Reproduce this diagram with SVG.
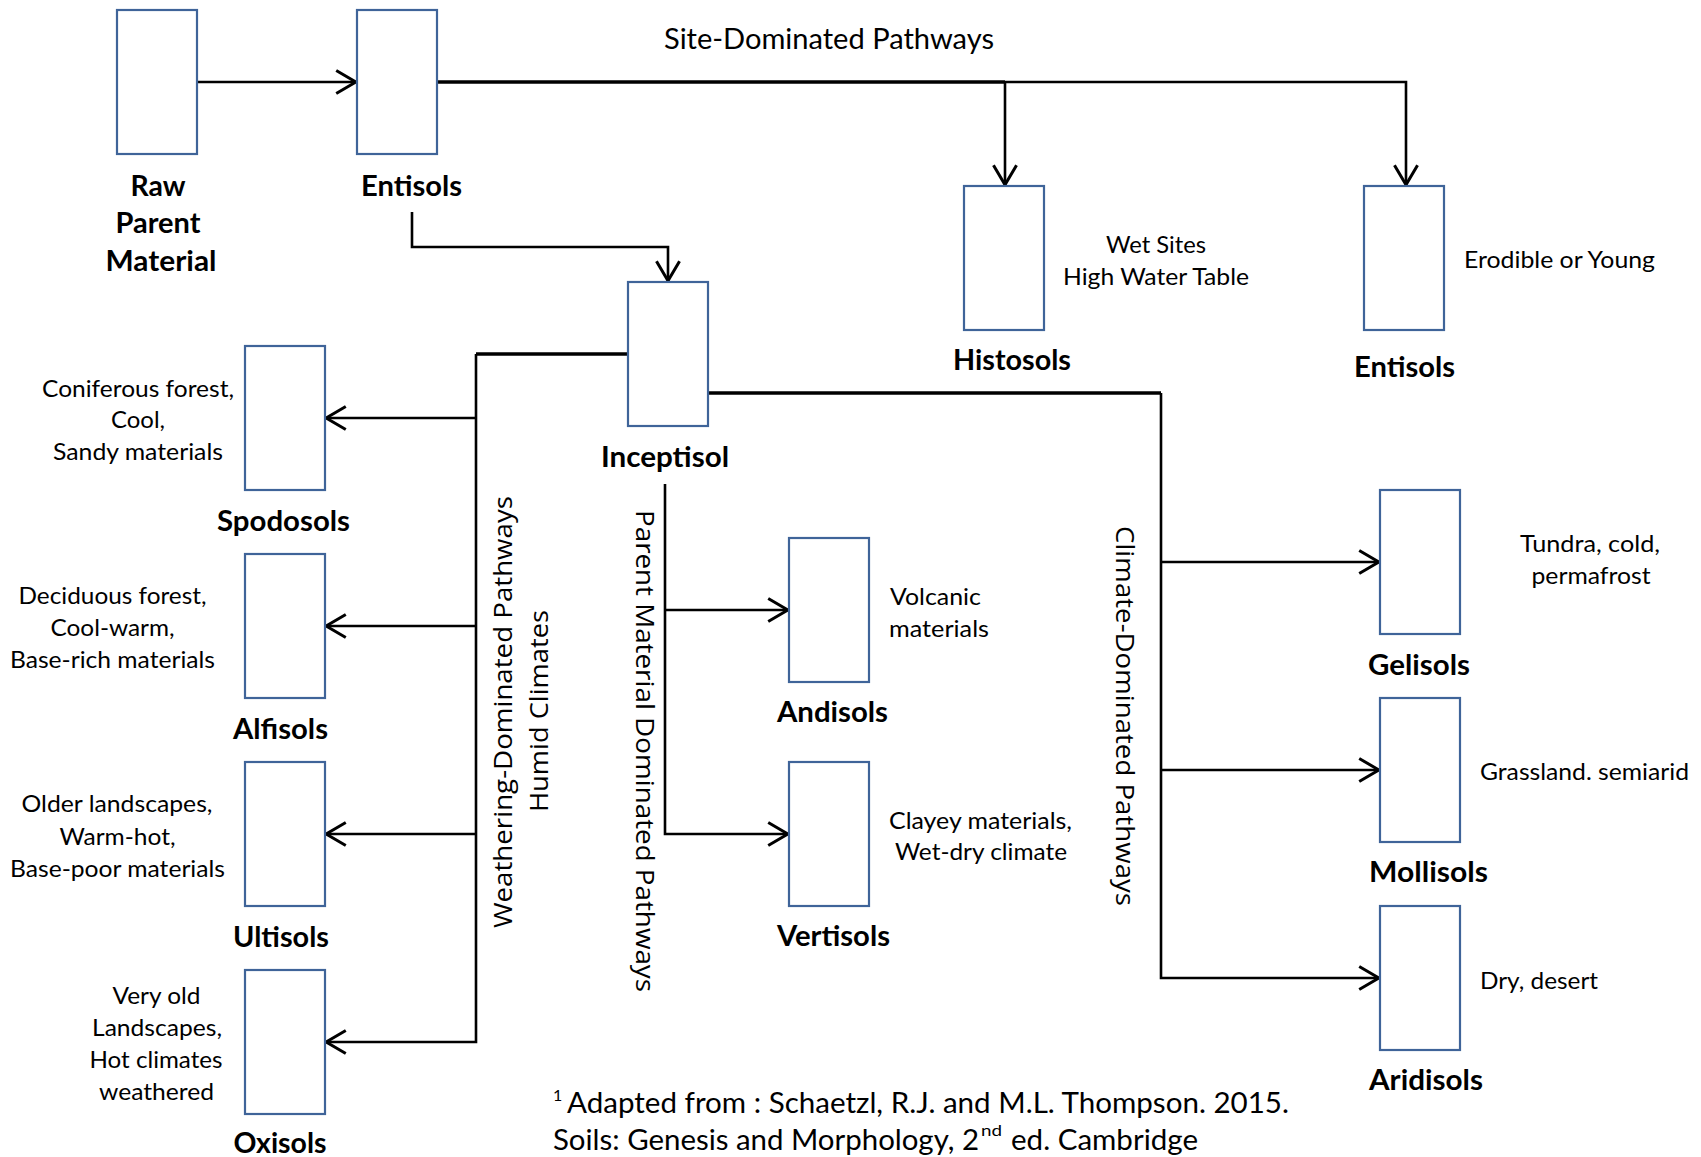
<svg xmlns="http://www.w3.org/2000/svg" width="1701" height="1157" viewBox="0 0 1701 1157">
<style>
.box{fill:#fff;stroke:#3F6499;stroke-width:2.2}
.lbl{font-family:Lato,"Liberation Sans",sans-serif;font-weight:bold;font-size:29px;fill:#000;text-anchor:middle}
.desc{font-family:Lato,"Liberation Sans",sans-serif;font-size:23px;fill:#000}
.mid{text-anchor:middle}
.big{font-family:Lato,"Liberation Sans",sans-serif;font-size:28px;fill:#000}
.vert{font-family:"Open Sans","DejaVu Sans",sans-serif;font-size:26px;fill:#000;text-anchor:middle}
.c{fill:none;stroke:#000;stroke-width:2.6}
.t{fill:none;stroke:#000;stroke-width:3.4}
</style>
<defs>
<marker id="arr" markerUnits="userSpaceOnUse" markerWidth="30" markerHeight="30" viewBox="-22 -13 26 26" refX="0" refY="0" orient="auto" overflow="visible">
<path d="M-18,-10 L-1,0 L-18,10" fill="none" stroke="#000" stroke-width="2.6"/>
</marker>
</defs>
<rect width="1701" height="1157" fill="#fff"/>

<g id="connectors">
<path class="c" d="M197,82 H357" marker-end="url(#arr)"/>
<path class="t" d="M437,82 H1005"/>
<path class="c" d="M1005,82 H1406 V186" marker-end="url(#arr)"/>
<path class="c" d="M1005,82 V186" marker-end="url(#arr)"/>
<path class="c" d="M412,212 V247 H668 V282" marker-end="url(#arr)"/>
<path class="t" d="M628,354 H476"/>
<path class="c" d="M476,354 V1042 H325" marker-end="url(#arr)"/>
<path class="c" d="M476,418 H325" marker-end="url(#arr)"/>
<path class="c" d="M476,626 H325" marker-end="url(#arr)"/>
<path class="c" d="M476,834 H325" marker-end="url(#arr)"/>
<path class="t" d="M709,393 H1161"/>
<path class="c" d="M1161,393 V978 H1380" marker-end="url(#arr)"/>
<path class="c" d="M1161,562 H1380" marker-end="url(#arr)"/>
<path class="c" d="M1161,770 H1380" marker-end="url(#arr)"/>
<path class="c" d="M665,484 V834 H789" marker-end="url(#arr)"/>
<path class="c" d="M665,610 H789" marker-end="url(#arr)"/>
</g>

<g id="raw">
<rect class="box" x="117" y="10" width="80" height="144"/>
<text class="lbl" x="158" y="196" textLength="55" lengthAdjust="spacingAndGlyphs">Raw</text>
<text class="lbl" x="158" y="233" textLength="85" lengthAdjust="spacingAndGlyphs">Parent</text>
<text class="lbl" x="161" y="271" textLength="111" lengthAdjust="spacingAndGlyphs">Material</text>
</g>

<g id="entisols-top">
<rect class="box" x="357" y="10" width="80" height="144"/>
<text class="lbl" x="411.5" y="196" textLength="101" lengthAdjust="spacingAndGlyphs">Entisols</text>
</g>

<g id="site-label">
<text class="big mid" x="829" y="49" textLength="330" lengthAdjust="spacingAndGlyphs">Site-Dominated Pathways</text>
</g>

<g id="histosols">
<rect class="box" x="964" y="186" width="80" height="144"/>
<text class="lbl" x="1012" y="369.5" textLength="118" lengthAdjust="spacingAndGlyphs">Histosols</text>
<text class="desc mid" x="1156" y="253" textLength="100" lengthAdjust="spacingAndGlyphs">Wet Sites</text>
<text class="desc mid" x="1156" y="285" textLength="186" lengthAdjust="spacingAndGlyphs">High Water Table</text>
</g>

<g id="entisols-right">
<rect class="box" x="1364" y="186" width="80" height="144"/>
<text class="lbl" x="1404.5" y="377" textLength="101" lengthAdjust="spacingAndGlyphs">Entisols</text>
<text class="desc" x="1464" y="268" textLength="191" lengthAdjust="spacingAndGlyphs">Erodible or Young</text>
</g>

<g id="inceptisol">
<rect class="box" x="628" y="282" width="80" height="144"/>
<text class="lbl" x="665" y="467" textLength="128" lengthAdjust="spacingAndGlyphs">Inceptisol</text>
</g>

<g id="spodosols">
<rect class="box" x="245" y="346" width="80" height="144"/>
<text class="lbl" x="283.5" y="531" textLength="133" lengthAdjust="spacingAndGlyphs">Spodosols</text>
<text class="desc mid" x="138" y="397" textLength="192" lengthAdjust="spacingAndGlyphs">Coniferous forest,</text>
<text class="desc mid" x="138" y="428" textLength="54" lengthAdjust="spacingAndGlyphs">Cool,</text>
<text class="desc mid" x="138" y="460" textLength="170" lengthAdjust="spacingAndGlyphs">Sandy materials</text>
</g>

<g id="alfisols">
<rect class="box" x="245" y="554" width="80" height="144"/>
<text class="lbl" x="280.5" y="739" textLength="95" lengthAdjust="spacingAndGlyphs">Alfisols</text>
<text class="desc mid" x="112.5" y="604" textLength="188" lengthAdjust="spacingAndGlyphs">Deciduous forest,</text>
<text class="desc mid" x="112.5" y="636" textLength="124" lengthAdjust="spacingAndGlyphs">Cool-warm,</text>
<text class="desc mid" x="112.5" y="668" textLength="205" lengthAdjust="spacingAndGlyphs">Base-rich materials</text>
</g>

<g id="ultisols">
<rect class="box" x="245" y="762" width="80" height="144"/>
<text class="lbl" x="281" y="947" textLength="96" lengthAdjust="spacingAndGlyphs">Ultisols</text>
<text class="desc mid" x="117" y="812" textLength="191" lengthAdjust="spacingAndGlyphs">Older landscapes,</text>
<text class="desc mid" x="117.5" y="845" textLength="116" lengthAdjust="spacingAndGlyphs">Warm-hot,</text>
<text class="desc mid" x="117.5" y="877" textLength="215" lengthAdjust="spacingAndGlyphs">Base-poor materials</text>
</g>

<g id="oxisols">
<rect class="box" x="245" y="970" width="80" height="144"/>
<text class="lbl" x="280" y="1153" textLength="93" lengthAdjust="spacingAndGlyphs">Oxisols</text>
<text class="desc mid" x="156.5" y="1004" textLength="88" lengthAdjust="spacingAndGlyphs">Very old</text>
<text class="desc mid" x="157" y="1036" textLength="130" lengthAdjust="spacingAndGlyphs">Landscapes,</text>
<text class="desc mid" x="156" y="1068" textLength="133" lengthAdjust="spacingAndGlyphs">Hot climates</text>
<text class="desc mid" x="156.5" y="1100" textLength="115" lengthAdjust="spacingAndGlyphs">weathered</text>
</g>

<g id="andisols">
<rect class="box" x="789" y="538" width="80" height="144"/>
<text class="lbl" x="832.5" y="721.5" textLength="111" lengthAdjust="spacingAndGlyphs">Andisols</text>
<text class="desc" x="890" y="605" textLength="91" lengthAdjust="spacingAndGlyphs">Volcanic</text>
<text class="desc" x="889" y="637" textLength="100" lengthAdjust="spacingAndGlyphs">materials</text>
</g>

<g id="vertisols">
<rect class="box" x="789" y="762" width="80" height="144"/>
<text class="lbl" x="833.5" y="946" textLength="113" lengthAdjust="spacingAndGlyphs">Vertisols</text>
<text class="desc mid" x="980.5" y="829" textLength="183" lengthAdjust="spacingAndGlyphs">Clayey materials,</text>
<text class="desc mid" x="981" y="860" textLength="172" lengthAdjust="spacingAndGlyphs">Wet-dry climate</text>
</g>

<g id="gelisols">
<rect class="box" x="1380" y="490" width="80" height="144"/>
<text class="lbl" x="1419" y="674.5" textLength="102" lengthAdjust="spacingAndGlyphs">Gelisols</text>
<text class="desc mid" x="1590" y="552" textLength="140" lengthAdjust="spacingAndGlyphs">Tundra, cold,</text>
<text class="desc mid" x="1591" y="584" textLength="119" lengthAdjust="spacingAndGlyphs">permafrost</text>
</g>

<g id="mollisols">
<rect class="box" x="1380" y="698" width="80" height="144"/>
<text class="lbl" x="1428.5" y="882" textLength="119" lengthAdjust="spacingAndGlyphs">Mollisols</text>
<text class="desc" x="1480" y="780" textLength="209" lengthAdjust="spacingAndGlyphs">Grassland. semiarid</text>
</g>

<g id="aridisols">
<rect class="box" x="1380" y="906" width="80" height="144"/>
<text class="lbl" x="1426" y="1089.5" textLength="114" lengthAdjust="spacingAndGlyphs">Aridisols</text>
<text class="desc" x="1480" y="989" textLength="118" lengthAdjust="spacingAndGlyphs">Dry, desert</text>
</g>

<g id="pathway-labels">
<text class="vert" transform="translate(512,712) rotate(-90)" textLength="432" lengthAdjust="spacingAndGlyphs">Weathering-Dominated Pathways</text>
<text class="vert" transform="translate(548,711) rotate(-90)" textLength="202" lengthAdjust="spacingAndGlyphs">Humid Climates</text>
<text class="vert" transform="translate(636,751) rotate(90)" textLength="482" lengthAdjust="spacingAndGlyphs">Parent Material Dominated Pathways</text>
<text class="vert" transform="translate(1116,716) rotate(90)" textLength="380" lengthAdjust="spacingAndGlyphs">Climate-Dominated Pathways</text>
</g>

<g id="footnote">
<text class="desc" x="553" y="1101" style="font-size:16px">1</text>
<text class="big" x="567" y="1113" textLength="722" lengthAdjust="spacingAndGlyphs">Adapted from : Schaetzl, R.J. and M.L. Thompson. 2015.</text>
<text class="big" x="553" y="1150" textLength="426" lengthAdjust="spacingAndGlyphs">Soils: Genesis and Morphology, 2</text>
<text class="desc" x="981" y="1136" style="font-size:16px" textLength="21" lengthAdjust="spacingAndGlyphs">nd</text>
<text class="big" x="1011" y="1150" textLength="187" lengthAdjust="spacingAndGlyphs">ed. Cambridge</text>
</g>
</svg>
